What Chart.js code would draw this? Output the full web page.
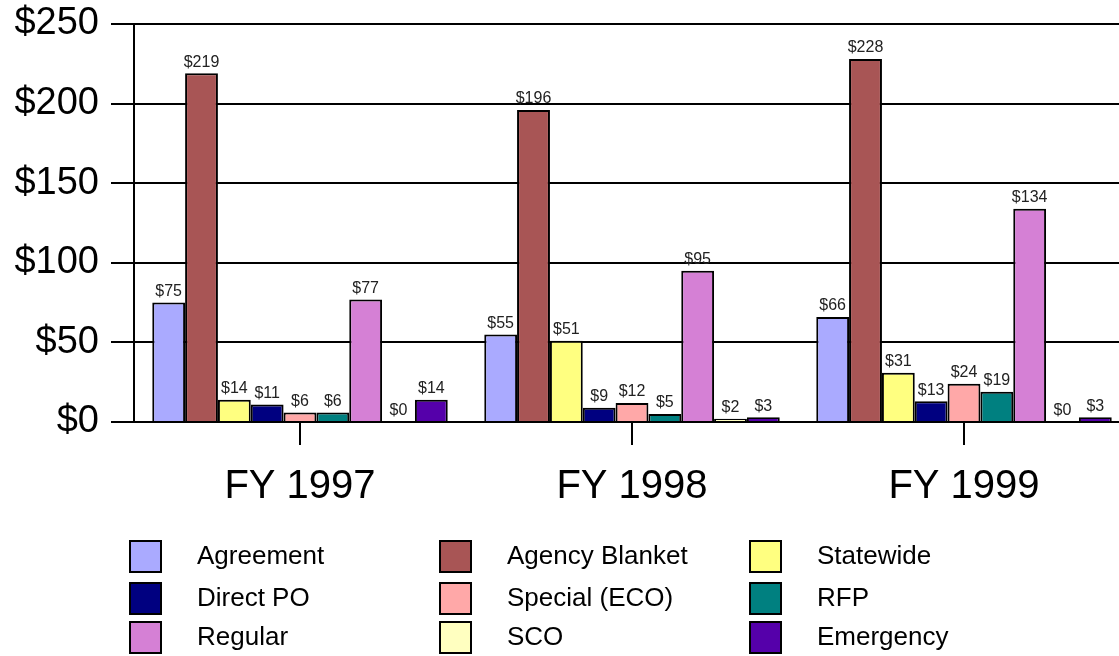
<!DOCTYPE html>
<html>
<head>
<meta charset="utf-8">
<script src="https://cdn.jsdelivr.net/npm/chart.js@4"></script>
<style>
  html, body { margin: 0; padding: 0; background: #fff; overflow: hidden; }
  #wrap { position: relative; width: 1140px; height: 656px; }
</style>
</head>
<body>
<div id="wrap"><canvas id="spendChart"></canvas></div>
<script>
// Categories and series
var years = ['FY 1997', 'FY 1998', 'FY 1999'];
var seriesNames = ['Agreement', 'Agency Blanket', 'Statewide', 'Direct PO', 'Special (ECO)', 'RFP', 'Regular', 'SCO', 'Emergency'];
var agreement = [75, 55, 66];
var agencyBlanket = [219, 196, 228];
var statewide = [14, 51, 31];
var directPO = [11, 9, 13];
var specialECO = [6, 12, 24];
var rfp = [6, 5, 19];
var regular = [77, 95, 134];
var sco = [0, 2, 0];
var emergency = [14, 3, 3];
var yTicks = [0, 50, 100, 150, 200, 250];

var seriesValues = [agreement, agencyBlanket, statewide, directPO, specialECO, rfp, regular, sco, emergency];
var seriesColors = ['#AAAAFF', '#A85555', '#FFFF80', '#000080', '#FFA8A8', '#008080', '#D580D5', '#FFFFC0', '#5500AA'];

var font = '"Liberation Sans", Arial, sans-serif';

// value labels above each bar
var barLabels = {
    id: 'barLabels',
    afterDatasetsDraw: function (chart) {
        var ctx = chart.ctx;
        ctx.save();
        ctx.font = '16px ' + font;
        ctx.fillStyle = '#222';
        ctx.textAlign = 'center';
        ctx.textBaseline = 'bottom';
        chart.data.datasets.forEach(function (ds, i) {
            chart.getDatasetMeta(i).data.forEach(function (bar, j) {
                ctx.fillText('$' + ds.data[j], bar.x, bar.y - 3);
            });
        });
        ctx.restore();
    }
};

// three column legend under the axis
var gridLegend = {
    id: 'gridLegend',
    afterDraw: function (chart) {
        var ctx = chart.ctx;
        var colX = [130, 440, 750];
        var rowY = [556, 598, 637];
        ctx.save();
        ctx.font = '26px ' + font;
        ctx.textBaseline = 'middle';
        ctx.textAlign = 'left';
        chart.data.datasets.forEach(function (ds, i) {
            var x = colX[i % 3], y = rowY[Math.floor(i / 3)];
            ctx.fillStyle = ds.backgroundColor;
            ctx.fillRect(x, y - 15, 31, 31);
            ctx.lineWidth = 2;
            ctx.strokeStyle = '#000';
            ctx.strokeRect(x, y - 15, 31, 31);
            ctx.fillStyle = '#000';
            ctx.fillText(ds.label, x + 67, y + 1);
        });
        ctx.restore();
    }
};

var datasets = seriesNames.map(function (name, i) {
    return {
        label: name,
        data: seriesValues[i],
        backgroundColor: seriesColors[i],
        borderColor: '#000',
        borderWidth: 2,
        borderSkipped: 'bottom'
    };
});

function createSpendChart() {
    var ctx = document.getElementById('spendChart').getContext('2d');
    new Chart(ctx, {
        type: 'bar',
        data: { labels: years, datasets: datasets },
        plugins: [barLabels, gridLegend],
        options: {
            responsive: true,
            maintainAspectRatio: false,
            animation: false,
            layout: { padding: { top: 24, right: 10, left: 0, bottom: 0 } },
            datasets: { bar: { barPercentage: 1, categoryPercentage: 0.89 } },
            plugins: { legend: { display: false }, tooltip: { enabled: false } },
            scales: {
                x: {
                    grid: { display: true, drawOnChartArea: false, drawTicks: true, tickLength: 23, offset: false, color: '#000', lineWidth: 2 },
                    border: { display: true, color: '#000', width: 2 },
                    ticks: { color: '#000', font: { family: font, size: 40 }, padding: 18 },
                    afterFit: function (scale) { scale.height = 234; }
                },
                y: {
                    min: 0,
                    max: 250,
                    afterBuildTicks: function (scale) {
                        scale.ticks = yTicks.map(function (v) { return { value: v }; });
                    },
                    grid: { color: '#000', lineWidth: 2, drawTicks: true, tickLength: 23, tickColor: '#000' },
                    border: { display: true, color: '#000', width: 2 },
                    ticks: {
                        color: '#000',
                        padding: 12,
                        font: { family: font, size: 38 },
                        callback: function (v) { return '$' + v; }
                    },
                    afterFit: function (scale) {
                        scale.width = 134;
                        scale.paddingTop = 0;
                        scale.paddingBottom = 0;
                    }
                }
            }
        }
    });
}

createSpendChart();
</script>
</body>
</html>
